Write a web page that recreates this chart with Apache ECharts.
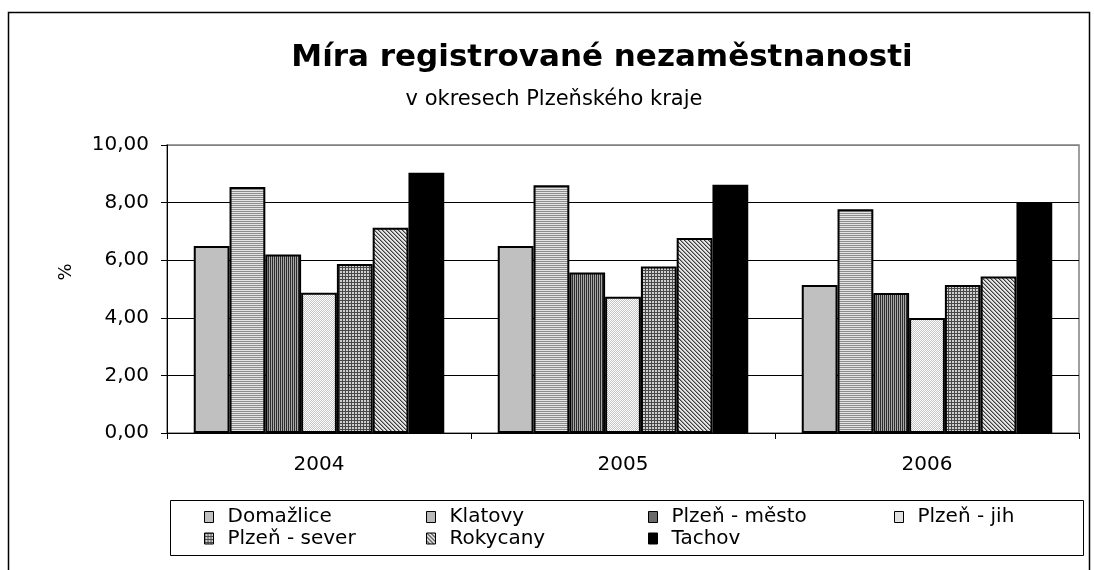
<!DOCTYPE html>
<html>
<head>
<meta charset="utf-8">
<script src="https://cdn.jsdelivr.net/npm/echarts@6/dist/echarts.min.js"></script>
<style>
html,body{margin:0;padding:0;background:#fff;}
#chart{width:1094px;height:570px;}
</style>
</head>
<body>
<div id="chart"></div>
<script>
// ---- data ----
const categories = ['2004', '2005', '2006'];
const seriesNames = ['Domažlice', 'Klatovy', 'Plzeň - město', 'Plzeň - jih', 'Plzeň - sever', 'Rokycany', 'Tachov'];
const domazlice  = [6.49, 6.49, 5.14];
const klatovy    = [8.54, 8.60, 7.77];
const plzenMesto = [6.20, 5.57, 4.86];
const plzenJih   = [4.87, 4.73, 3.99];
const plzenSever = [5.87, 5.78, 5.14];
const rokycany   = [7.13, 6.77, 5.43];
const tachov     = [9.04, 8.62, 8.00];
const yTicks = [0, 2, 4, 6, 8, 10];
const titleText = 'Míra registrované nezaměstnanosti';
const subtitleText = 'v okresech Plzeňského kraje';
const yName = '%';

// ---- fill patterns (styles) ----
function pattern(w, h, fn) {
  const c = document.createElement('canvas');
  c.width = w; c.height = h;
  const ctx = c.getContext('2d');
  for (let y = 0; y < h; y++) for (let x = 0; x < w; x++) {
    ctx.fillStyle = fn(x, y);
    ctx.fillRect(x, y, 1, 1);
  }
  return { image: c, repeat: 'repeat' };
}
const fills = [
  '#c0c0c0',
  pattern(2, 2, (x, y) => y === 0 ? '#e4e4e4' : '#8c8c8c'),
  pattern(2, 2, (x, y) => x === 0 ? '#2c2c2c' : '#a8a8a8'),
  pattern(2, 2, (x, y) => (x + y) % 2 === 0 ? '#ffffff' : '#c4c4c4'),
  pattern(3, 3, (x, y) => (x === 0 || y === 0) ? '#484848' : '#d0d0d0'),
  pattern(4, 4, (x, y) => (x === y) ? '#3c3c3c' : ((x + 4 - y) % 4 === 1 ? '#9a9a9a' : '#e4e4e4')),
  '#000000'
];
const allData = [domazlice, klatovy, plzenMesto, plzenJih, plzenSever, rokycany, tachov];

const FONT = 'DejaVu Sans';
const chart = echarts.init(document.getElementById('chart'), null, { renderer: 'canvas' });

const legendCols = [
  { left: 199, names: [seriesNames[0], seriesNames[4]] },
  { left: 421, names: [seriesNames[1], seriesNames[5]] },
  { left: 643, names: [seriesNames[2], seriesNames[6]] },
  { left: 889, names: [seriesNames[3]] }
];

const option = {
  animation: false,
  backgroundColor: '#ffffff',
  title: [
    { text: titleText, left: 597, top: 37, textAlign: 'center',
      textStyle: { fontFamily: FONT, fontWeight: 'bold', fontSize: 31, color: '#000' } },
    { text: subtitleText, left: 549, top: 84, textAlign: 'center',
      textStyle: { fontFamily: FONT, fontWeight: 'normal', fontSize: 21, color: '#000' } }
  ],
  graphic: [
    { type: 'rect', shape: { x: 8.5, y: 12.5, width: 1081, height: 600 },
      style: { fill: 'none', stroke: '#000', lineWidth: 1.5 }, silent: true, z: -1 },
    { type: 'rect', shape: { x: 170.5, y: 500.5, width: 913, height: 55 },
      style: { fill: '#fff', stroke: '#000', lineWidth: 1 }, silent: true, z: -1 }
  ],
  legend: legendCols.map(c => ({
    orient: 'vertical',
    left: c.left,
    top: 502,
    itemWidth: 9,
    itemHeight: 11,
    itemGap: 1.5,
    data: c.names,
    icon: 'rect',
    itemStyle: { borderWidth: 1, borderColor: '#000' },
    textStyle: { fontFamily: FONT, fontSize: 20, lineHeight: 20, color: '#000', padding: [0, 0, 0, 9] },
    selectedMode: false
  })),
  grid: { left: 167, right: 15, top: 145, bottom: 137, show: true, borderColor: '#808080', borderWidth: 1.5, backgroundColor: 'transparent' },
  xAxis: {
    type: 'category',
    data: categories,
    axisLine: { show: true, lineStyle: { color: '#000', width: 1 } },
    axisTick: { show: true, length: 6, alignWithLabel: false, lineStyle: { color: '#000' } },
    axisLabel: { fontFamily: FONT, fontSize: 20, color: '#000', margin: 22 }
  },
  yAxis: {
    type: 'value',
    min: yTicks[0],
    max: yTicks[yTicks.length - 1],
    interval: yTicks[1] - yTicks[0],
    name: yName,
    nameLocation: 'middle',
    nameGap: 92,
    nameTextStyle: { fontFamily: FONT, fontSize: 18, color: '#000', padding: [0, 0, 0, 34] },
    axisLine: { show: true, lineStyle: { color: '#000', width: 1 } },
    axisTick: { show: true, length: 6, lineStyle: { color: '#000' } },
    axisLabel: { fontFamily: FONT, fontSize: 20, color: '#000', margin: 18,
      formatter: v => v.toFixed(2).replace('.', ',') },
    splitLine: { show: true, lineStyle: { color: ['#000', '#000', '#000', '#000', '#000', '#808080'], width: 1 } }
  },
  series: seriesNames.map((n, i) => ({
    name: n,
    type: 'bar',
    data: allData[i],
    barGap: '0%',
    barCategoryGap: '17.6%',
    itemStyle: { color: fills[i], borderColor: '#000', borderWidth: 2 },
    emphasis: { disabled: true }
  }))
};
chart.setOption(option);
</script>
</body>
</html>
